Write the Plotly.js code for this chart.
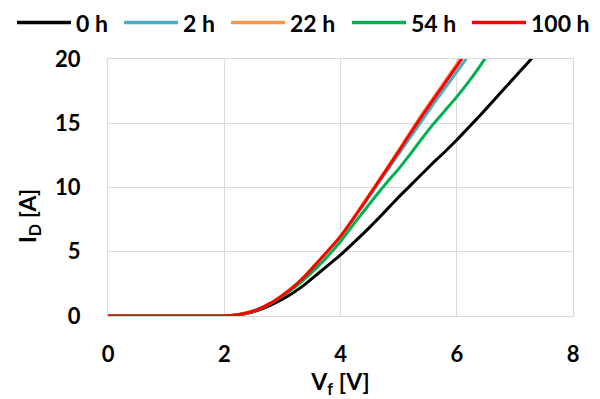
<!DOCTYPE html>
<html>
<head>
<meta charset="utf-8">
<script src="https://cdn.plot.ly/plotly-3.0.1.min.js"></script>
<style>
html,body{margin:0;padding:0;background:#fff;}
#chart{width:600px;height:399px;}
</style>
</head>
<body>
<div id="chart"></div>
<script>
// Forward voltage V_f [V]
const vf = [0, 0.5, 1.0, 1.5, 2.0, 2.2, 2.4, 2.6, 2.8, 3.0, 3.2, 3.4, 3.6, 3.8, 4.0, 4.2, 4.4, 4.6, 4.8, 5.0, 5.2, 5.4, 5.6, 5.8, 6.0, 6.2, 6.4, 6.6, 6.8, 7.0, 7.2, 7.4];

// Drain current I_D [A] for each stress time
const id_0h   = [0, 0, 0, 0, 0.02, 0.08, 0.22, 0.48, 0.85, 1.3, 1.85, 2.5, 3.25, 4.0, 4.75, 5.6, 6.45, 7.35, 8.3, 9.25, 10.15, 11.05, 11.95, 12.8, 13.7, 14.65, 15.6, 16.6, 17.6, 18.6, 19.6, 20.6];
const id_2h   = [0, 0, 0, 0, 0.02, 0.08, 0.25, 0.55, 1.0, 1.6, 2.3, 3.15, 4.15, 5.15, 6.2, 7.45, 8.7, 10.0, 11.3, 12.6, 13.9, 15.2, 16.5, 17.75, 19.0, 20.25];
const id_22h  = [0, 0, 0, 0, 0.02, 0.08, 0.25, 0.55, 1.0, 1.6, 2.3, 3.15, 4.15, 5.15, 6.2, 7.45, 8.8, 10.15, 11.5, 12.9, 14.3, 15.7, 17.0, 18.3, 19.6, 20.9];
const id_54h  = [0, 0, 0, 0, 0.02, 0.08, 0.25, 0.55, 0.98, 1.55, 2.2, 2.95, 3.8, 4.75, 5.8, 7.0, 8.15, 9.3, 10.4, 11.45, 12.6, 13.8, 14.95, 16.0, 17.05, 18.2, 19.45, 20.8];
const id_100h = [0, 0, 0, 0, 0.02, 0.08, 0.25, 0.55, 1.0, 1.6, 2.3, 3.15, 4.15, 5.15, 6.2, 7.45, 8.75, 10.1, 11.45, 12.8, 14.2, 15.55, 16.85, 18.15, 19.45, 20.75];

const seriesNames = ['0 h', '2 h', '22 h', '54 h', '100 h'];
const seriesData = [id_0h, id_2h, id_22h, id_54h, id_100h];
const seriesColors = ['#000000', '#4bacc6', '#f79646', '#00b050', '#ff0000'];

const xTicks = [0, 2, 4, 6, 8];
const yTicks = [0, 5, 10, 15, 20];

const FONT = 'Lato, "Open Sans", sans-serif';

// Plot-area geometry (pixels) used for the hand-placed legend and y title
const W = 600, H = 399;
const M = {l: 108, r: 27, t: 59, b: 83};
const plotW = W - M.l - M.r, plotH = H - M.t - M.b;
const px2x = px => (px - M.l) / plotW;
const px2y = py => (H - M.b - py) / plotH;

const traces = seriesData.map((ys, i) => ({
  type: 'scatter',
  mode: 'lines',
  name: seriesNames[i],
  x: vf.slice(0, ys.length),
  y: ys,
  line: {color: seriesColors[i], width: 3, shape: 'spline', smoothing: 0.4}
}));

// Legend layout (top row): line sample start and text start per entry
const legLineStart = [17, 124, 231, 352, 472];
const legLineLen = 54;
const legTextGap = 4;
const legY = 22.5;

const shapes = [];
const annotations = [];
seriesNames.forEach((name, i) => {
  shapes.push({
    type: 'line', xref: 'paper', yref: 'paper',
    x0: px2x(legLineStart[i]), x1: px2x(legLineStart[i] + legLineLen),
    y0: px2y(legY), y1: px2y(legY),
    line: {color: seriesColors[i], width: 3.5}
  });
  annotations.push({
    text: name, xref: 'paper', yref: 'paper',
    x: px2x(legLineStart[i] + legLineLen + legTextGap), y: px2y(legY),
    xanchor: 'left', yanchor: 'middle', showarrow: false, borderpad: 0,
    font: {family: FONT, size: 23, color: '#000000', weight: 700}
  });
});
annotations.push({
  text: 'I<sub>D</sub> [A]',
  xref: 'paper', yref: 'paper',
  x: px2x(28), y: px2y(216),
  xanchor: 'center', yanchor: 'middle',
  textangle: -90,
  showarrow: false,
  font: {family: FONT, size: 23, color: '#000000', weight: 700}
});

const layout = {
  width: W,
  height: H,
  margin: M,
  paper_bgcolor: '#ffffff',
  plot_bgcolor: '#ffffff',
  font: {family: FONT, size: 22, color: '#000000', weight: 700},
  showlegend: false,
  xaxis: {
    range: [0, 8],
    tickvals: xTicks,
    ticktext: xTicks.map(String),
    showgrid: true,
    gridcolor: '#d9d9d9',
    gridwidth: 1,
    zeroline: false,
    showline: true,
    linecolor: '#d9d9d9',
    linewidth: 1,
    mirror: true,
    ticks: '',
    ticklabelstandoff: 19,
    tickfont: {family: FONT, size: 22, color: '#000000', weight: 700},
    title: {text: 'V<sub>f</sub> [V]', font: {family: FONT, size: 23, color: '#000000', weight: 700}, standoff: 4}
  },
  yaxis: {
    range: [0, 20],
    tickvals: yTicks,
    ticktext: yTicks.map(String),
    showgrid: true,
    gridcolor: '#d9d9d9',
    gridwidth: 1,
    zeroline: false,
    showline: true,
    linecolor: '#d9d9d9',
    linewidth: 1,
    mirror: true,
    ticks: '',
    ticklabelstandoff: 22,
    tickfont: {family: FONT, size: 22, color: '#000000', weight: 700}
  },
  shapes: shapes,
  annotations: annotations
};

Plotly.newPlot('chart', traces, layout, {displayModeBar: false, staticPlot: true});
</script>
</body>
</html>
